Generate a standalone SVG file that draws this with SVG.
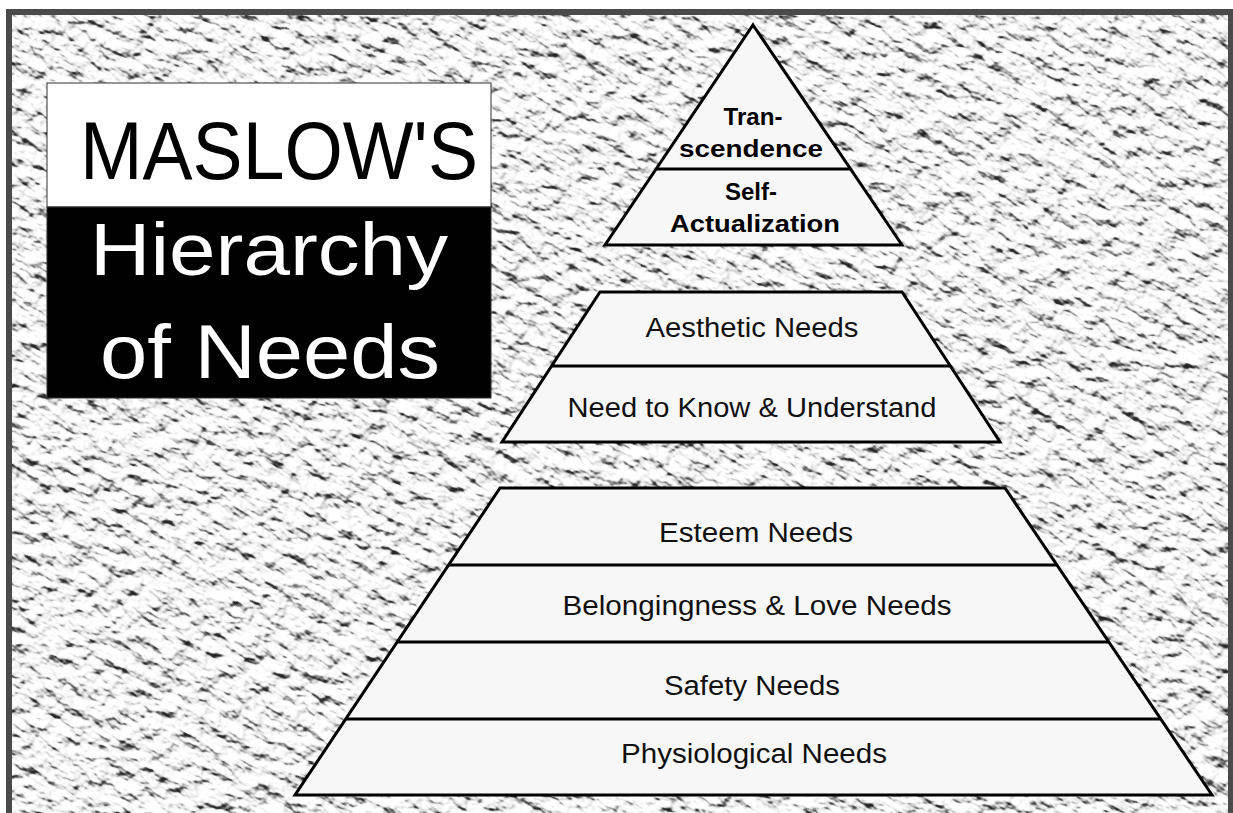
<svg xmlns="http://www.w3.org/2000/svg" width="1233" height="813" viewBox="0 0 1233 813">
<style>
.tier{fill:#f7f7f7;stroke:#000;stroke-width:3;stroke-linejoin:miter}
.div{stroke:#000;stroke-width:3}
.lbl{font-family:"Liberation Sans",Arial,sans-serif;font-size:27px;fill:#111;text-anchor:middle}
.top{font-family:"Liberation Sans",Arial,sans-serif;font-size:23px;font-weight:bold;fill:#000;text-anchor:middle}
.title{font-family:"Liberation Sans",Arial,sans-serif}
.frame{fill:#4a4a4a}
</style>
<defs>
<filter id="stucco" x="0" y="0" width="1" height="1" color-interpolation-filters="sRGB">
<feTurbulence type="fractalNoise" baseFrequency="0.05 0.085" numOctaves="3" seed="11" result="n"/>
<feDiffuseLighting in="n" surfaceScale="8" diffuseConstant="1.2" lighting-color="#ffffff" result="l">
<feDistantLight azimuth="225" elevation="50"/>
</feDiffuseLighting>
<feComponentTransfer>
<feFuncR type="table" tableValues="0.15 0.38 0.62 0.82 0.91 0.96 1"/>
<feFuncG type="table" tableValues="0.15 0.38 0.62 0.82 0.91 0.96 1"/>
<feFuncB type="table" tableValues="0.15 0.38 0.62 0.82 0.91 0.96 1"/>
</feComponentTransfer>
</filter>
<clipPath id="inner"><rect x="12" y="15" width="1216" height="798"/></clipPath>
</defs>
<rect x="0" y="0" width="1233" height="813" fill="#fff"/>
<g id="frame">
<rect class="frame" x="6" y="9" width="1227" height="6"/>
<rect class="frame" x="6" y="9" width="6" height="804"/>
<rect class="frame" x="1228" y="9" width="5" height="804"/>
</g>
<g id="background" clip-path="url(#inner)">
<rect x="12" y="15" width="1216" height="798" fill="#e6e6e6"/>
<g transform="rotate(32 616 406)">
<rect x="-500" y="-700" width="2233" height="2213" filter="url(#stucco)"/>
</g>
</g>
<g id="title">
<rect x="47" y="83" width="444" height="124" fill="#fff" stroke="#333" stroke-width="1"/>
<rect x="47" y="207" width="444" height="191" fill="#000" stroke="#333" stroke-width="1"/>
<text class="title" x="80" y="179" font-size="82" textLength="398" lengthAdjust="spacingAndGlyphs" fill="#000">MASLOW'S</text>
<text class="title" x="90" y="275" font-size="75" textLength="358" lengthAdjust="spacingAndGlyphs" fill="#fff">Hierarchy</text>
<text class="title" x="100" y="378" font-size="76" textLength="340" lengthAdjust="spacingAndGlyphs" fill="#fff">of Needs</text>
</g>
<g id="top-triangle">
<polygon class="tier" points="753,25 902,245 605,245"/>
<line class="div" x1="656" y1="169" x2="850" y2="169"/>
<g id="transcendence">
<text class="top" x="753" y="125" textLength="59" lengthAdjust="spacingAndGlyphs">Tran-</text>
<text class="top" x="751" y="157" textLength="144" lengthAdjust="spacingAndGlyphs">scendence</text>
</g>
<g id="self-actualization">
<text class="top" x="751" y="200" textLength="52" lengthAdjust="spacingAndGlyphs">Self-</text>
<text class="top" x="755" y="232" textLength="170" lengthAdjust="spacingAndGlyphs">Actualization</text>
</g>
</g>
<g id="middle-trapezoid">
<polygon class="tier" points="600,292 902,292 1000,442 502,442"/>
<line class="div" x1="552" y1="366" x2="950" y2="366"/>
<g id="aesthetic"><text class="lbl" x="752" y="337" textLength="213" lengthAdjust="spacingAndGlyphs">Aesthetic Needs</text></g>
<g id="know"><text class="lbl" x="752" y="417" textLength="369" lengthAdjust="spacingAndGlyphs">Need to Know &amp; Understand</text></g>
</g>
<g id="bottom-trapezoid">
<polygon class="tier" points="500,488 1005,488 1212,795 295,795"/>
<line class="div" x1="449" y1="565" x2="1057" y2="565"/>
<line class="div" x1="397" y1="642" x2="1109" y2="642"/>
<line class="div" x1="346" y1="719" x2="1161" y2="719"/>
<g id="esteem"><text class="lbl" x="756" y="542" textLength="194" lengthAdjust="spacingAndGlyphs">Esteem Needs</text></g>
<g id="belonging"><text class="lbl" x="757" y="615" textLength="389" lengthAdjust="spacingAndGlyphs">Belongingness &amp; Love Needs</text></g>
<g id="safety"><text class="lbl" x="752" y="695" textLength="176" lengthAdjust="spacingAndGlyphs">Safety Needs</text></g>
<g id="physiological"><text class="lbl" x="754" y="763" textLength="266" lengthAdjust="spacingAndGlyphs">Physiological Needs</text></g>
</g>
</svg>
